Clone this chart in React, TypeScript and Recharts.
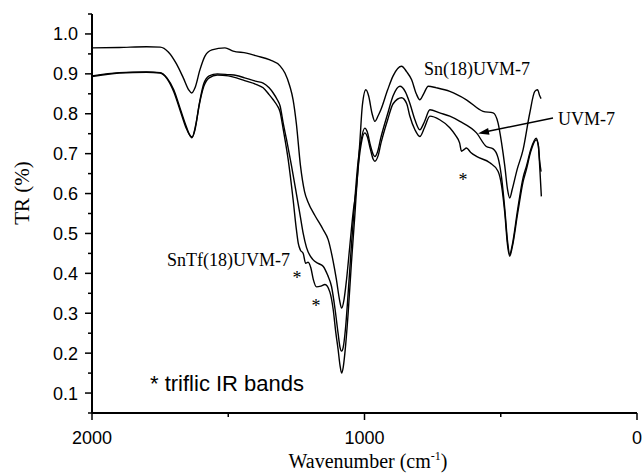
import React from 'react';
import { LineChart, Line, XAxis, YAxis } from 'recharts';

// ---- Data (wavenumber in cm-1, TR) ----
const snWn = [2000, 1900, 1800, 1750, 1720, 1690, 1665, 1645, 1634, 1622, 1604, 1585, 1560, 1512, 1482, 1433, 1396, 1347, 1310, 1292, 1274, 1262, 1250, 1235, 1220, 1207, 1182, 1152, 1133, 1115, 1103, 1092, 1084, 1075, 1066, 1054, 1042, 1029, 1017, 1008, 995, 985, 972, 962, 950, 940, 915, 895, 864, 845, 827, 810, 797, 783, 766, 736, 687, 626, 565, 528, 510, 497, 485, 475, 467, 458, 440, 418, 394, 375, 365, 357, 352];
const snTr = [0.965, 0.966, 0.968, 0.967, 0.955, 0.925, 0.89, 0.86, 0.852, 0.865, 0.91, 0.945, 0.96, 0.965, 0.957, 0.952, 0.945, 0.935, 0.92, 0.902, 0.869, 0.835, 0.775, 0.67, 0.605, 0.578, 0.545, 0.51, 0.484, 0.43, 0.384, 0.335, 0.313, 0.335, 0.384, 0.468, 0.551, 0.62, 0.73, 0.82, 0.86, 0.845, 0.8, 0.781, 0.795, 0.81, 0.86, 0.895, 0.919, 0.905, 0.885, 0.85, 0.835, 0.85, 0.869, 0.865, 0.856, 0.835, 0.806, 0.802, 0.777, 0.727, 0.668, 0.61, 0.589, 0.61, 0.66, 0.71, 0.8, 0.856, 0.86, 0.845, 0.838];

const uvmWn = [2000, 1900, 1800, 1750, 1725, 1700, 1675, 1655, 1640, 1632, 1620, 1605, 1590, 1570, 1540, 1500, 1470, 1440, 1396, 1372, 1350, 1335, 1320, 1310, 1298, 1286, 1268, 1250, 1235, 1225, 1213, 1190, 1170, 1152, 1135, 1121, 1108, 1097, 1090, 1084, 1078, 1070, 1060, 1048, 1036, 1025, 1012, 999, 990, 978, 968, 962, 952, 940, 915, 895, 870, 850, 834, 815, 797, 780, 760, 724, 687, 650, 589, 553, 528, 510, 497, 485, 475, 467, 458, 438, 418, 406, 390, 370, 362, 357, 351];
const uvmTr = [0.895, 0.903, 0.905, 0.903, 0.89, 0.86, 0.81, 0.77, 0.745, 0.742, 0.77, 0.83, 0.875, 0.895, 0.9, 0.898, 0.896, 0.89, 0.881, 0.877, 0.865, 0.852, 0.835, 0.82, 0.775, 0.735, 0.67, 0.6, 0.54, 0.5, 0.465, 0.435, 0.425, 0.418, 0.395, 0.367, 0.31, 0.25, 0.215, 0.205, 0.215, 0.26, 0.35, 0.47, 0.58, 0.67, 0.735, 0.764, 0.755, 0.72, 0.698, 0.693, 0.705, 0.74, 0.8, 0.845, 0.869, 0.855, 0.827, 0.785, 0.76, 0.78, 0.81, 0.802, 0.794, 0.781, 0.752, 0.718, 0.712, 0.69, 0.64, 0.56, 0.48, 0.447, 0.47, 0.56, 0.64, 0.668, 0.71, 0.739, 0.72, 0.668, 0.593];

const sntfWn = [2000, 1900, 1800, 1750, 1725, 1700, 1675, 1655, 1640, 1634, 1622, 1607, 1590, 1570, 1540, 1500, 1470, 1440, 1396, 1372, 1350, 1335, 1320, 1310, 1298, 1280, 1262, 1250, 1243, 1235, 1225, 1216, 1207, 1197, 1188, 1176, 1160, 1145, 1127, 1115, 1105, 1097, 1090, 1084, 1078, 1072, 1060, 1048, 1036, 1025, 1012, 999, 990, 978, 968, 962, 950, 940, 915, 895, 864, 845, 834, 815, 797, 780, 760, 724, 687, 665, 651, 644, 635, 626, 610, 589, 540, 510, 497, 485, 475, 467, 458, 438, 418, 406, 390, 370, 362, 357, 352];
const sntfTr = [0.893, 0.902, 0.904, 0.902, 0.888, 0.855, 0.805, 0.765, 0.745, 0.74, 0.76, 0.82, 0.868, 0.89, 0.897, 0.895, 0.89, 0.883, 0.873, 0.865, 0.848, 0.835, 0.82, 0.805, 0.76, 0.685, 0.585, 0.51, 0.475, 0.458, 0.45, 0.425, 0.428, 0.414, 0.385, 0.366, 0.368, 0.372, 0.353, 0.31, 0.25, 0.21, 0.17, 0.15, 0.165, 0.2, 0.3, 0.426, 0.54, 0.65, 0.725, 0.752, 0.743, 0.71, 0.686, 0.681, 0.695, 0.725, 0.785, 0.825, 0.84, 0.825, 0.795, 0.76, 0.743, 0.765, 0.794, 0.785, 0.765, 0.745, 0.727, 0.706, 0.71, 0.714, 0.703, 0.693, 0.677, 0.656, 0.62, 0.55, 0.47, 0.443, 0.465, 0.55, 0.63, 0.66, 0.705, 0.735, 0.72, 0.68, 0.655];

const xMajorTicks = [2000, 1000, 0];
const xMinorTicks = [1500, 500];
const yMajorTicks = [0.1, 0.2, 0.3, 0.4, 0.5, 0.6, 0.7, 0.8, 0.9, 1.0];
const yMinorTicks = [0.05, 0.15, 0.25, 0.35, 0.45, 0.55, 0.65, 0.75, 0.85, 0.95, 1.05];

const toPoints = (wn: number[], tr: number[]) => wn.map((w, i) => ({ wn: w, tr: tr[i] }));
const snData = toPoints(snWn, snTr);
const uvmData = toPoints(uvmWn, uvmTr);
const sntfData = toPoints(sntfWn, sntfTr);

const xTicks = [...xMajorTicks, ...xMinorTicks].sort((a, b) => b - a);
const yTicks = [...yMajorTicks, ...yMinorTicks].sort((a, b) => a - b);

const SANS = '"Liberation Sans", Arial, Helvetica, sans-serif';
const SERIF = '"Liberation Serif", "Times New Roman", Times, serif';

const isIn = (arr: number[], v: number) => arr.some((t) => Math.abs(t - v) < 1e-6);

const YTick = (props: any) => {
  const { x, y, payload } = props;
  const v = payload.value as number;
  const major = isIn(yMajorTicks, v);
  return (
    <g>
      <line x1={x - (major ? 7 : 4)} x2={x} y1={y} y2={y} stroke="#000" strokeWidth={1.5} />
      {major && (
        <text x={x - 14} y={y} dy="0.36em" textAnchor="end" fontFamily={SANS} fontSize={18} fill="#000">
          {v.toFixed(1)}
        </text>
      )}
    </g>
  );
};

const XTick = (props: any) => {
  const { x, y, payload } = props;
  const v = payload.value as number;
  const major = isIn(xMajorTicks, v);
  return (
    <g>
      <line x1={x} x2={x} y1={y} y2={y + (major ? 7 : 4)} stroke="#000" strokeWidth={1.5} />
      {major && (
        <text x={x} y={y + 31} textAnchor="middle" fontFamily={SANS} fontSize={18} fill="#000">
          {String(v)}
        </text>
      )}
    </g>
  );
};

const lineProps = {
  dataKey: 'tr',
  type: 'monotone' as const,
  stroke: '#000',
  strokeWidth: 1.4,
  dot: false,
  activeDot: false,
  isAnimationActive: false,
  yAxisId: 'y',
  xAxisId: 'x',
};

export default function App() {
  return (
    <div style={{ position: 'absolute', left: 0, top: 0, width: 643, height: 474, background: '#fff' }}>
      <LineChart width={643} height={474} margin={{ top: 14, right: 6, bottom: 0, left: 0 }}>
        <XAxis
          xAxisId="x"
          dataKey="wn"
          type="number"
          domain={[0, 2000]}
          reversed
          allowDataOverflow
          ticks={xTicks}
          interval={0}
          tick={<XTick />}
          tickLine={false}
          tickSize={0}
          tickMargin={0}
          height={61}
          axisLine={{ stroke: '#000', strokeWidth: 2 }}
        />
        <YAxis
          yAxisId="y"
          type="number"
          domain={[0.05, 1.05]}
          allowDataOverflow
          ticks={yTicks}
          interval={0}
          tick={<YTick />}
          tickLine={false}
          tickSize={0}
          tickMargin={0}
          width={92}
          axisLine={{ stroke: '#000', strokeWidth: 2 }}
        />
        <Line {...lineProps} data={snData} name="Sn(18)UVM-7" />
        <Line {...lineProps} data={uvmData} name="UVM-7" />
        <Line {...lineProps} data={sntfData} name="SnTf(18)UVM-7" />
      </LineChart>
      <svg
        width={643}
        height={474}
        style={{ position: 'absolute', left: 0, top: 0, pointerEvents: 'none' }}
      >
        <text x={22} y={193} dy="0.35em" textAnchor="middle" transform="rotate(-90 22 193)" fontFamily={SERIF} fontSize={21} fill="#000">
          TR (%)
        </text>
        <text x={368} y={468} textAnchor="middle" fontFamily={SERIF} fontSize={20} fill="#000">
          <tspan>Wavenumber (cm</tspan>
          <tspan dy={-8} fontSize={12}>-1</tspan>
          <tspan dy={8}>)</tspan>
        </text>
        <text x={424} y={75} fontFamily={SERIF} fontSize={18} fill="#000">Sn(18)UVM-7</text>
        <text x={558} y={125} fontFamily={SERIF} fontSize={18} fill="#000">UVM-7</text>
        <line x1={553} y1={118} x2={487} y2={131.5} stroke="#000" strokeWidth={1.5} />
        <polygon points="478,133.5 489.5,134.8 488.1,127.9" fill="#000" />
        <text x={167} y={266} fontFamily={SERIF} fontSize={18} fill="#000">SnTf(18)UVM-7</text>
        <text x={297} y={284} textAnchor="middle" fontFamily={SERIF} fontSize={18} fill="#000">*</text>
        <text x={316} y={312} textAnchor="middle" fontFamily={SERIF} fontSize={18} fill="#000">*</text>
        <text x={463} y={186} textAnchor="middle" fontFamily={SERIF} fontSize={18} fill="#000">*</text>
        <text x={150} y={391} fontFamily={SANS} fontSize={22} fill="#000">* triflic IR bands</text>
      </svg>
    </div>
  );
}
